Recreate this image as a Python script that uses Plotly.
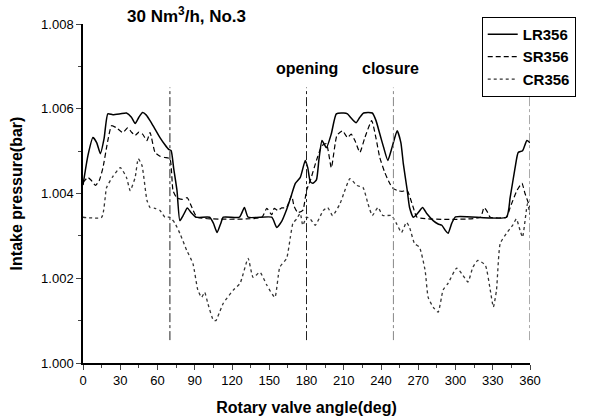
import plotly.graph_objects as go

# ---------------- data ----------------
lr_deg = [0, 4, 8, 11, 14, 17, 20, 24, 30, 35, 39, 42, 45, 48, 51, 54, 58, 62, 66, 69, 71, 73, 75.7, 78,
          81, 84, 87, 91, 102, 105, 108, 111, 113, 126, 130, 133, 152, 156, 160, 164, 167, 171, 175, 179,
          181, 183, 185, 188, 190, 192.5, 196, 200, 204, 210, 213, 216, 220, 223, 226, 233, 236, 239, 242,
          245.5, 249, 253, 256, 258, 261, 263, 266, 270, 273.5, 277, 282, 286, 289, 292, 294, 297, 300,
          341, 344, 348, 350.5, 354, 357.5, 360]
lr_val = [1.0042, 1.0049, 1.00532, 1.0052, 1.00494, 1.0053, 1.00588, 1.00586, 1.00588, 1.0059, 1.0058,
          1.00565, 1.0058, 1.00591, 1.00585, 1.00572, 1.00552, 1.00532, 1.00515, 1.00504, 1.00501, 1.0046,
          1.00407, 1.00336, 1.0035, 1.00366, 1.00355, 1.00344, 1.00344, 1.0033, 1.00308, 1.0033, 1.00344,
          1.00344, 1.00367, 1.00344, 1.00344, 1.0032, 1.00334, 1.00362, 1.00388, 1.00424, 1.00438, 1.00478,
          1.00461, 1.00428, 1.00424, 1.00432, 1.0048, 1.00525, 1.00508, 1.00541, 1.00588, 1.0059, 1.00588,
          1.00578, 1.00567, 1.0058, 1.0059, 1.0059, 1.00572, 1.00541, 1.0051, 1.00478, 1.0051, 1.00548,
          1.0052, 1.0047, 1.0041, 1.00367, 1.00344, 1.00355, 1.00367, 1.00352, 1.00336, 1.00328, 1.00325,
          1.00312, 1.00306, 1.0033, 1.00345, 1.00344, 1.0039, 1.00461, 1.00497, 1.00501, 1.00525, 1.0052]

sr_deg = [0, 4, 7, 10, 13, 16, 20, 23, 27, 32, 36, 39, 42, 45, 48, 51.5, 54, 58, 62, 66, 70, 72.5, 75.5,
          80, 84, 88, 92, 144, 148, 152, 154, 157, 160, 164, 168, 170, 173, 177, 180, 183, 188, 192.5, 196,
          200, 204.5, 209, 213, 216, 219, 223, 227, 232.5, 236, 239, 243, 246, 249, 253, 257, 261, 266, 269,
          320, 323, 326, 328, 341, 344, 349.5, 353.5, 356, 360]
sr_val = [1.00426, 1.00438, 1.0043, 1.00419, 1.0043, 1.0046, 1.00525, 1.0056, 1.00555, 1.00544, 1.00555,
          1.00545, 1.00537, 1.00545, 1.0054, 1.00525, 1.00544, 1.00497, 1.00488, 1.00485, 1.00482, 1.00407,
          1.0039, 1.00386, 1.0039, 1.00365, 1.00344, 1.00344, 1.00365, 1.0035, 1.00365, 1.0036, 1.00366,
          1.00367, 1.00395, 1.0037, 1.00355, 1.0036, 1.00407, 1.0043, 1.00478, 1.00513, 1.00518, 1.00461,
          1.00537, 1.00548, 1.00532, 1.0054, 1.00525, 1.00497, 1.00532, 1.00572, 1.0053, 1.00485, 1.0045,
          1.0043, 1.00414, 1.00407, 1.00405, 1.00407, 1.00367, 1.00344, 1.00344, 1.00367, 1.00355, 1.00344,
          1.00344, 1.00367, 1.00407, 1.00424, 1.004, 1.00367]

cr_deg = [0, 15, 19, 24, 30, 35, 38, 42, 44.5, 47.5, 51.5, 54, 58, 62, 66, 70, 74, 78, 83.5, 88.5, 92.5,
          95.5, 98, 100.5, 105, 107, 110, 113, 121, 126.5, 133, 137, 142.5, 148, 154.5, 158.5, 164, 167,
          169, 172, 175, 177, 180, 183, 187, 193.5, 197, 201, 207, 210, 215, 220.5, 225.5, 229.5, 233,
          237.5, 241.5, 248.5, 252.5, 256.5, 260.5, 263, 267, 271, 275.5, 278, 282, 286, 290, 294, 301,
          306, 310, 314, 318, 324, 328, 330.5, 333, 336, 341, 346, 349, 352, 354, 358, 360]
cr_val = [1.00344, 1.00344, 1.00414, 1.0044, 1.00461, 1.00438, 1.00407, 1.00438, 1.00482, 1.00466,
          1.00384, 1.00367, 1.00365, 1.0036, 1.00344, 1.00344, 1.0033, 1.00306, 1.00266, 1.00235, 1.00172,
          1.00155, 1.00167, 1.00141, 1.00101, 1.001, 1.0012, 1.00141, 1.00172, 1.00188, 1.00247, 1.00202,
          1.00214, 1.00184, 1.00155, 1.00226, 1.00247, 1.00297, 1.00329, 1.0034, 1.00353, 1.00325, 1.00344,
          1.0034, 1.00325, 1.0036, 1.00367, 1.00348, 1.00376, 1.004, 1.00435, 1.00419, 1.00414, 1.00376,
          1.00348, 1.00367, 1.00348, 1.00348, 1.00329, 1.00308, 1.00332, 1.0032, 1.00282, 1.00273, 1.00219,
          1.00155, 1.00132, 1.0012, 1.00172, 1.00188, 1.00224, 1.00207, 1.00191, 1.00226, 1.00242, 1.00231,
          1.00172, 1.00132, 1.00172, 1.00282, 1.00306, 1.00325, 1.0034, 1.00313, 1.00297, 1.00376, 1.0035]

marker_deg = [70, 180, 250, 360]
marker_top = [1.0065, 1.0065, 1.0065, 1.00630]
marker_bottom = 1.00054
marker_colors = ["#222222", "#222222", "#888888", "#555555"]

x_ticks = [0, 30, 60, 90, 120, 150, 180, 210, 240, 270, 300, 330, 360]
y_ticks = [1.000, 1.002, 1.004, 1.006, 1.008]
y_tick_text = ["1.000", "1.002", "1.004", "1.006", "1.008"]

series_names = ["LR356", "SR356", "CR356"]

# ---------------- figure ----------------
fig = go.Figure()
fig.add_trace(go.Scatter(x=lr_deg, y=lr_val, name="<b>" + series_names[0] + "</b>", mode="lines",
                         line=dict(color="black", width=1.5, shape="spline", smoothing=0.5)))
fig.add_trace(go.Scatter(x=sr_deg, y=sr_val, name="<b>" + series_names[1] + "</b>", mode="lines",
                         line=dict(color="black", width=1.2, dash="5px,3px", shape="spline", smoothing=0.5)))
fig.add_trace(go.Scatter(x=cr_deg, y=cr_val, name="<b>" + series_names[2] + "</b>", mode="lines",
                         line=dict(color="#333333", width=1.3, dash="dot", shape="spline", smoothing=0.5)))

for xd, yt, c in zip(marker_deg, marker_top, marker_colors):
    fig.add_shape(type="line", xref="x", yref="y", x0=xd, x1=xd, y0=marker_bottom, y1=yt,
                  line=dict(color=c, width=1, dash="dashdot"), layer="above")

font_family = "Liberation Sans, Arial, sans-serif"

fig.add_annotation(text="<b>30 Nm<sup>3</sup>/h, No.3</b>", xref="x", yref="paper", x=83, y=1.0,
                   yanchor="bottom", yshift=-4,
                   showarrow=False, font=dict(family=font_family, size=17, color="black"))
fig.add_annotation(text="<b>opening</b>", xref="x", yref="y", x=180, y=1.00694,
                   showarrow=False, font=dict(family=font_family, size=16, color="black"))
fig.add_annotation(text="<b>closure</b>", xref="x", yref="y", x=247.5, y=1.00694,
                   showarrow=False, font=dict(family=font_family, size=16, color="black"))

fig.update_layout(
    width=589, height=416,
    margin=dict(l=83, r=59, t=24, b=53),
    paper_bgcolor="white", plot_bgcolor="white",
    font=dict(family=font_family, size=12, color="black"),
    showlegend=True,
    legend=dict(x=0.892, y=1.021, xanchor="left", yanchor="top",
                bordercolor="black", borderwidth=1, bgcolor="white",
                font=dict(family=font_family, size=15, color="black"),
                itemwidth=30, tracegroupgap=0),
)

fig.update_xaxes(range=[0, 360], tickvals=x_ticks, ticks="outside", ticklen=5, tickwidth=1.2,
                 showline=True, linecolor="black", linewidth=1.5, showgrid=False, zeroline=False,
                 automargin=False,
                 minor=dict(ticks="outside", ticklen=3, dtick=15, tick0=0, tickwidth=1),
                 tickfont=dict(size=13),
                 title=dict(text="<b>Rotary valve angle(deg)</b>", font=dict(size=16)))
fig.update_yaxes(range=[1.000, 1.008], tickvals=y_ticks, ticktext=y_tick_text, ticks="outside", ticklen=5,
                 tickwidth=1.2, showline=True, linecolor="black", linewidth=1.5, showgrid=False,
                 zeroline=False, automargin=False,
                 minor=dict(ticks="outside", ticklen=3, dtick=0.001, tick0=1.000, tickwidth=1),
                 tickfont=dict(size=13),
                 title=dict(text="<b>Intake pressure(bar)</b>", font=dict(size=16)))

fig.write_html("out.html")
